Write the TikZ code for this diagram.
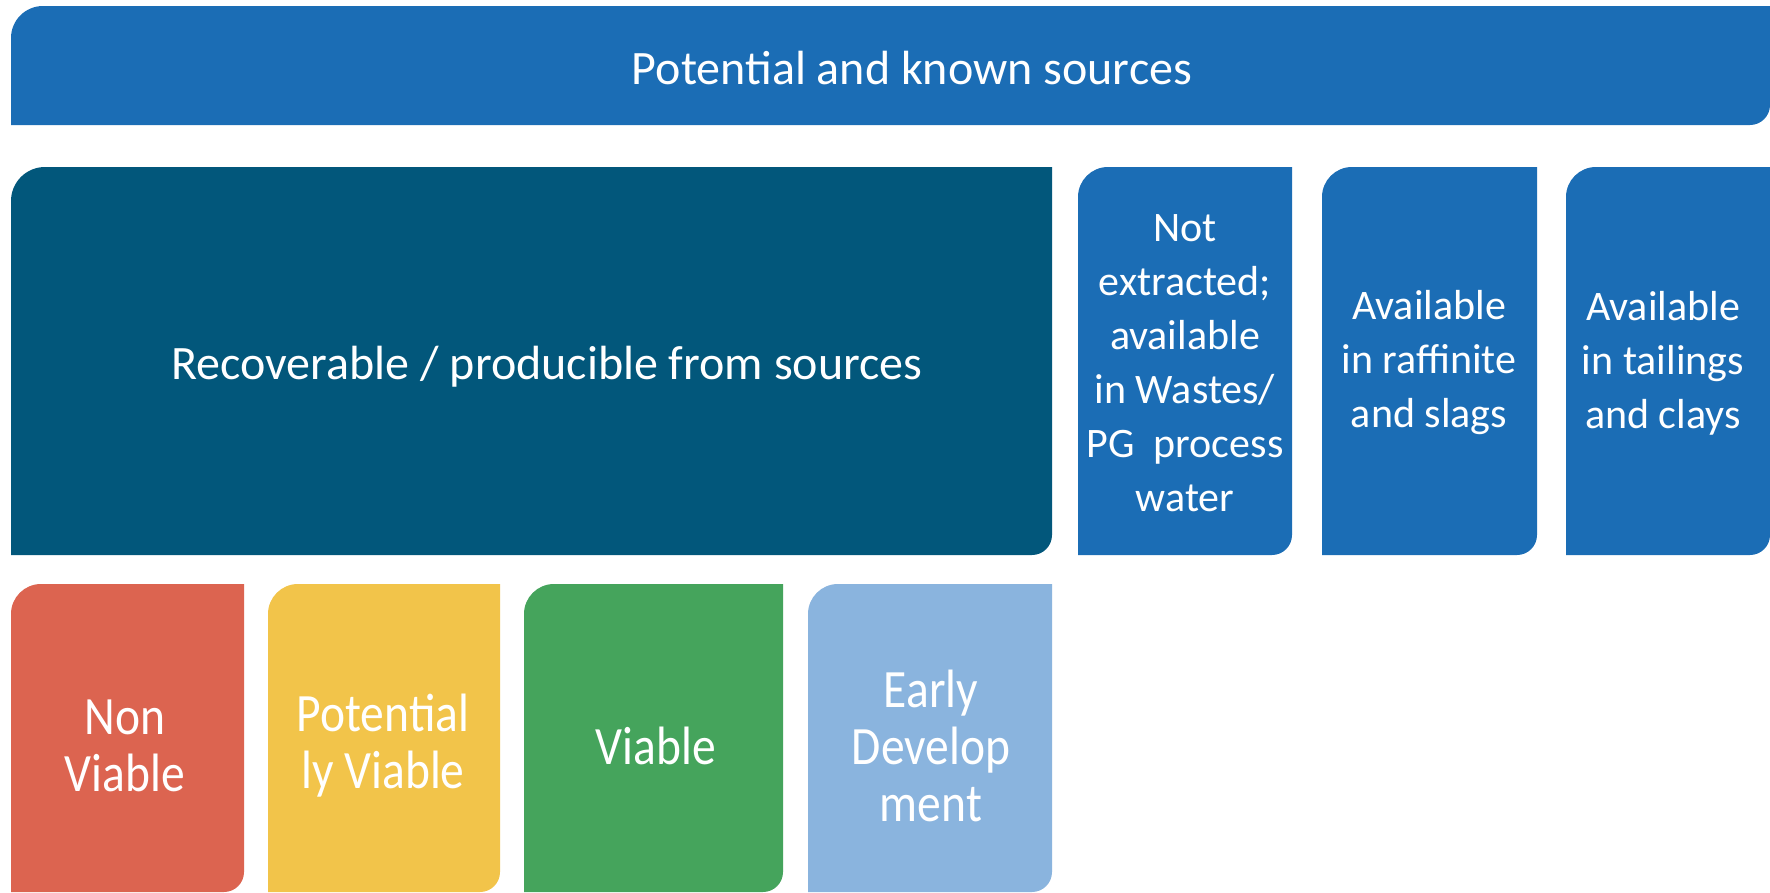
\documentclass[tikz,border=0pt]{standalone}
\usepackage{fontspec}
\setmainfont{Carlito}
\definecolor{barblue}{RGB}{27,109,181}
\definecolor{deepteal}{RGB}{2,87,123}
\definecolor{nvred}{RGB}{220,100,80}
\definecolor{pvyellow}{RGB}{242,196,74}
\definecolor{vgreen}{RGB}{69,164,92}
\definecolor{edblue}{RGB}{138,180,222}
% box with rounded top-left and bottom-right corners (y grows downward)
\newcommand{\leafbox}[6]{%
  \fill[#5] (#1,#4) -- (#1,#2+#6) arc (180:270:#6) -- (#3,#2)
    -- (#3,#4-20) arc (0:90:20) -- cycle;}
\tikzset{
  lbl/.style={text=white, align=center, inner sep=0pt},
  bigtxt/.style={lbl, font=\fontsize{48}{54}\selectfont},
  sidetxt/.style={lbl, font=\fontsize{42}{54}\selectfont},
  lowtxt/.style={lbl, font=\fontsize{54}{57}\selectfont, xscale=0.88},
}
\begin{document}
\begin{tikzpicture}[x=1pt,y=-1pt]
\useasboundingbox (0,0) rectangle (1770,892);
\fill[white] (0,0) rectangle (1770,892);
% top band
\leafbox{11}{6}{1770}{125}{barblue}{32}
\node[bigtxt] (top) at (912,68) {Potential and known sources};
% second row
\leafbox{11}{167}{1052}{555}{deepteal}{34}
\node[bigtxt] (rec) at (547,367) {Recoverable / producible from sources};
\leafbox{1078}{167}{1292}{555}{barblue}{30}
\node[sidetxt] (waste) at (1185,363) {Not\\extracted;\\available\\in Wastes/\\PG~~process\\water};
\leafbox{1322}{167}{1537}{555}{barblue}{30}
\node[sidetxt] (raff) at (1429,363) {Available\\in raffinite\\and slags};
\leafbox{1566}{167}{1770}{555}{barblue}{30}
\node[sidetxt] (tail) at (1663,363) {Available\\in tailings\\and clays};
% bottom row
\leafbox{11}{584}{244}{892}{nvred}{30}
\node[lowtxt] (nonv) at (125,746) {Non\\Viable};
\leafbox{268}{584}{500}{892}{pvyellow}{30}
\node[lowtxt] (potv) at (383,746) {Potential\\ly Viable};
\leafbox{524}{584}{783}{892}{vgreen}{30}
\node[lowtxt] (via) at (656,746) {Viable};
\leafbox{808}{584}{1052}{892}{edblue}{30}
\node[lowtxt] (early) at (931,746) {Early\\Develop\\ment};
\end{tikzpicture}
\end{document}
